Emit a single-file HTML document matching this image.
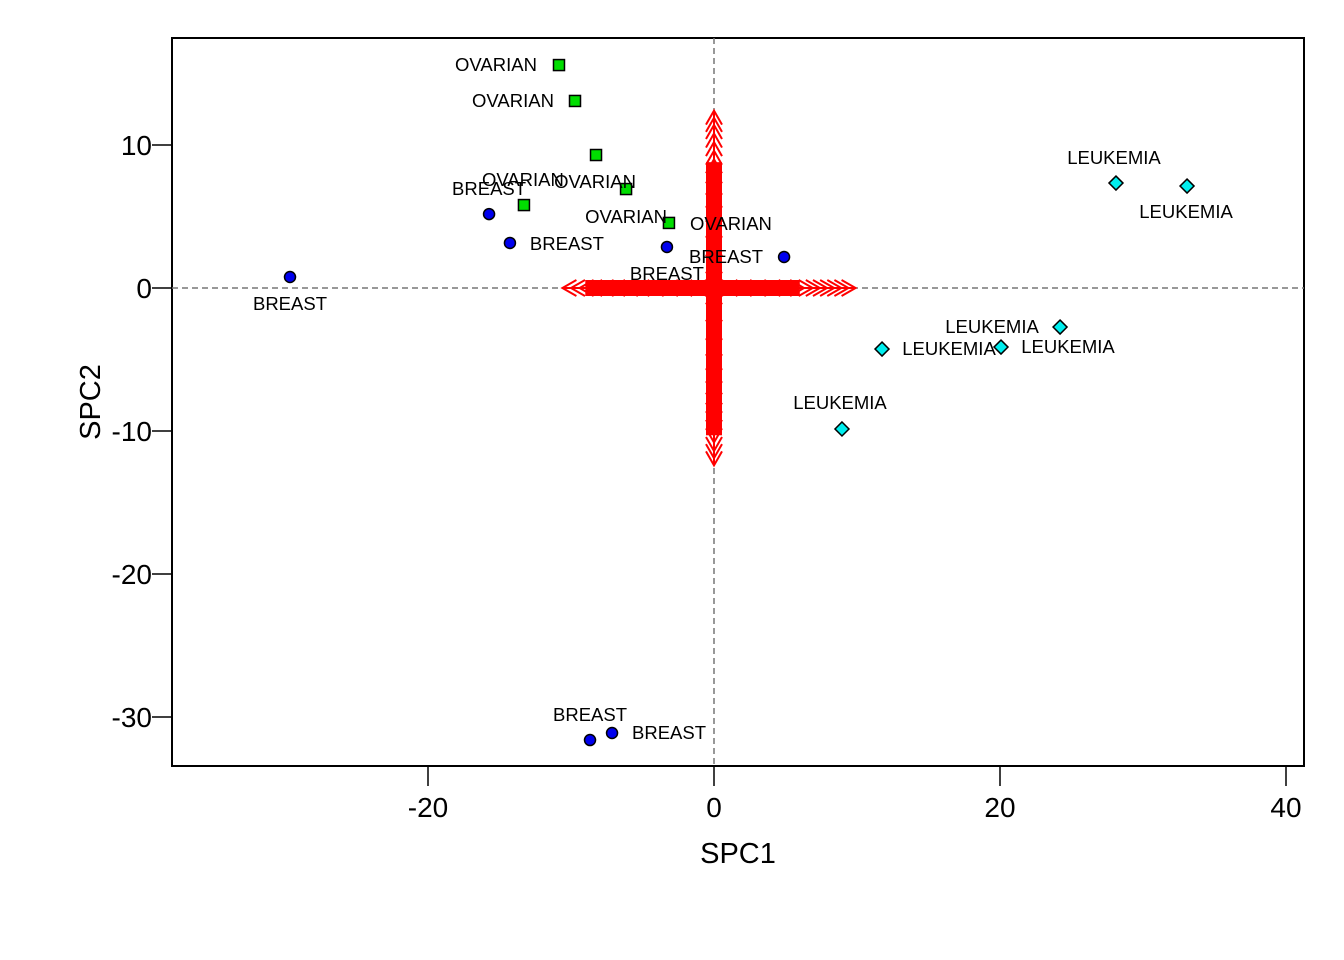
<!DOCTYPE html>
<html><head><meta charset="utf-8"><style>
html,body{margin:0;padding:0;background:#fff;}
svg{display:block;font-family:"Liberation Sans",Arial,sans-serif;}
</style></head><body>
<svg id="chart" width="1344" height="960">
<rect x="172" y="38" width="1132" height="728" fill="#fff" stroke="#000" stroke-width="2"/>
<g id="axes"></g><g id="arrows"></g><g id="points"></g><g id="labels"></g>
<text x="738" y="863" font-size="29" text-anchor="middle">SPC1</text>
<text x="0" y="0" font-size="29" text-anchor="middle" transform="translate(100,402) rotate(-90)">SPC2</text>
</svg>
<script>
const xTicks=[-20,0,20,40];
const yTicks=[10,0,-10,-20,-30];
const ovX=[-10.84,-9.72,-8.25,-6.15,-13.29,-3.15];
const ovY=[15.59,13.08,9.30,6.92,5.80,4.55];
const brX=[-29.65,-15.73,-14.27,-3.29,4.90,-8.67,-7.13];
const brY=[0.77,5.17,3.15,2.87,2.17,-31.61,-31.12];
const leX=[28.11,33.08,24.20,20.07,11.75,8.95];
const leY=[7.34,7.13,-2.73,-4.13,-4.27,-9.86];
const loadX=[-10.6,-10.0,-9.4,-8.8,-8.0,-7.2,-6.3,-5.5,-4.5,-3.5,-2.5,-1.5,1.5,2.5,3.5,4.5,5.5,6.3,6.9,7.4,7.9,8.4,8.9,9.4,9.9];
const loadY=[12.4,11.9,11.4,10.8,10.2,9.6,9.0,8.3,7.5,6.6,5.6,4.5,3.2,2.0,-2.0,-3.2,-4.5,-5.6,-6.6,-7.5,-8.3,-9.0,-9.6,-10.2,-10.8,-11.4,-11.9,-12.4];
const SVGNS="http://www.w3.org/2000/svg";
const sx=v=>714+v*14.3, sy=v=>288-v*14.3;
function mk(tag,attrs,parent,txt){const e=document.createElementNS(SVGNS,tag);for(const k in attrs)e.setAttribute(k,attrs[k]);if(txt!==undefined)e.textContent=txt;document.getElementById(parent).appendChild(e);return e;}
let e;
e=mk('line',{x1:172,x2:1304,y1:sy(0),y2:sy(0),stroke:'#777','stroke-width':1.5,'stroke-dasharray':'6,4'},'axes');


e=mk('line',{x1:sx(0),x2:sx(0),y1:38,y2:766,stroke:'#777','stroke-width':1.5,'stroke-dasharray':'6,4'},'axes');


xTicks.forEach(t=>{
 e=mk('line',{x1:sx(t),x2:sx(t),y1:766,y2:786,stroke:'#000','stroke-width':1.5},'axes');
 
 
 e=mk('text',{x:sx(t),y:817,'font-size':28,'text-anchor':'middle'},'axes',String(t));
 
 
});
yTicks.forEach(t=>{
 e=mk('line',{x1:152,x2:172,y1:sy(t),y2:sy(t),stroke:'#000','stroke-width':1.5},'axes');
 
 
 e=mk('text',{x:152,y:sy(t)+10,'font-size':28,'text-anchor':'end'},'axes',String(t));
 
 
});
function arrow(x2,y2){
 const X0=sx(0),Y0=sy(0),X=sx(x2),Y=sy(y2);
 const dx=X-X0,dy=Y-Y0,L=Math.hypot(dx,dy)||1,ux=dx/L,uy=dy/L;
 const hl=14,hw=8;
 const p1=[X-ux*hl-uy*hw,Y-uy*hl+ux*hw],p2=[X-ux*hl+uy*hw,Y-uy*hl-ux*hw];
 return mk('path',{d:`M${X0},${Y0}L${X},${Y}M${p1[0]},${p1[1]}L${X},${Y}L${p2[0]},${p2[1]}`,stroke:'#ff0000','stroke-width':2,fill:'none'},'arrows');
}
loadX.forEach(v=>{e=arrow(v,0);
 
 });
loadY.forEach(v=>{e=arrow(0,v);
 
 });
e=mk('rect',{x:sx(-9.0),y:sy(0)-8,width:sx(6.0)-sx(-9.0),height:16,fill:'#ff0000'},'arrows');


e=mk('rect',{x:sx(0)-8,y:sy(8.8),width:16,height:sy(-10.3)-sy(8.8),fill:'#ff0000'},'arrows');


ovX.forEach((v,i)=>{e=mk('rect',{x:sx(v)-5.5,y:sy(ovY[i])-5.5,width:11,height:11,fill:'#00dd00',stroke:'#000','stroke-width':1.5},'points');
 
 });
brX.forEach((v,i)=>{e=mk('circle',{cx:sx(v),cy:sy(brY[i]),r:5.5,fill:'#0000ee',stroke:'#000','stroke-width':1.5},'points');
 
 });
leX.forEach((v,i)=>{const X=sx(v),Y=sy(leY[i]);e=mk('path',{d:`M${X},${Y-7}L${X+7},${Y}L${X},${Y+7}L${X-7},${Y}Z`,fill:'#00eeee',stroke:'#000','stroke-width':1.5},'points');
 
 });
const ovOff=[[-63,0],[-62,0],[-1,27],[0,28],[-1,-25],[62,1]];
const brOff=[[0,27],[0,-25],[57,1],[0,27],[-58,0],[0,-25],[57,0]];
const leOff=[[-2,-25],[-1,26],[-68,0],[67,0],[67,0],[-2,-26]];
function lab(xs,ys,off,txt,name){xs.forEach((v,i)=>{e=mk('text',{x:sx(v)+off[i][0],y:sy(ys[i])+off[i][1]+6,'font-size':18.5,'text-anchor':'middle'},'labels',txt);
 
 });}
lab(ovX,ovY,ovOff,'OVARIAN','ovarian-label');
lab(brX,brY,brOff,'BREAST','breast-label');
lab(leX,leY,leOff,'LEUKEMIA','leukemia-label');
</script>
</body></html>
